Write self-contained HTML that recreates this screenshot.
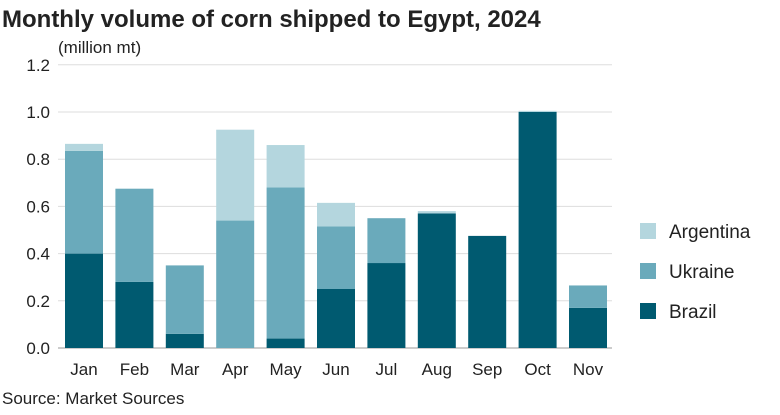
<!DOCTYPE html>
<html><head><meta charset="utf-8">
<style>
body{margin:0;background:#fff;font-family:"Liberation Sans",sans-serif;}
svg text{font-family:"Liberation Sans",sans-serif;fill:#222;}
</style></head>
<body>
<svg id="chart" width="780" height="410">
<text x="2" y="27" font-size="24" font-weight="bold">Monthly volume of corn shipped to Egypt, 2024</text>
<text x="58" y="53" font-size="17">(million mt)</text>
<text x="2" y="404" font-size="17">Source: Market Sources</text>
<g id="grid"></g><g id="bars"></g><g id="xlabels"></g><g id="legend"></g>
</svg>
<script>
const months=["Jan","Feb","Mar","Apr","May","Jun","Jul","Aug","Sep","Oct","Nov"];
const brazil=[0.40,0.28,0.06,0.00,0.04,0.25,0.36,0.57,0.475,1.0,0.17];
const ukraine=[0.435,0.395,0.29,0.54,0.64,0.265,0.19,0.0,0.0,0.0,0.095];
const argentina=[0.03,0.0,0.0,0.385,0.18,0.10,0.0,0.01,0.0,0.005,0.0];
const yTicks=[0,0.2,0.4,0.6,0.8,1.0,1.2];
const series=[{name:"Brazil",vals:brazil,color:"#005a70"},{name:"Ukraine",vals:ukraine,color:"#6aaabb"},{name:"Argentina",vals:argentina,color:"#b4d6de"}];
const NS="http://www.w3.org/2000/svg";
const y0=348,pxPerUnit=236;
function yScale(v){return y0-v*pxPerUnit;}
function xCenter(i){return 84+i*50.4;}
const bw=38;
function mk(tag,attrs,parent){const e=document.createElementNS(NS,tag);for(const k in attrs)e.setAttribute(k,attrs[k]);parent.appendChild(e);return e;}
const grid=document.getElementById('grid');
yTicks.forEach(t=>{
  const l=mk('line',{x1:58,x2:612,y1:yScale(t),y2:yScale(t),stroke:t===0?'#999':'#ddd','stroke-width':1},grid);
  
  
  const tx=mk('text',{x:50,y:yScale(t)+6,'font-size':17,'text-anchor':'end'},grid);
  tx.textContent=t.toFixed(1);
  
  
});
const bars=document.getElementById('bars');
months.forEach((m,i)=>{
  let cum=0;
  series.forEach(s=>{
    const v=s.vals[i];
    if(v>0){
      const r=mk('rect',{x:xCenter(i)-bw/2,y:yScale(cum+v),width:bw,height:v*pxPerUnit,fill:s.color},bars);
      
      
    }
    cum+=v;
  });
  const t=mk('text',{x:xCenter(i),y:375,'font-size':17,'text-anchor':'middle'},document.getElementById('xlabels'));
  t.textContent=m;
  
  
});
const lg=document.getElementById('legend');
[["Argentina","#b4d6de",231],["Ukraine","#6aaabb",271],["Brazil","#005a70",311]].forEach(([n,c,y])=>{
  const r=mk('rect',{x:640,y:y-8,width:16,height:16,fill:c},lg);
  
  
  const t=mk('text',{x:669,y:y+7,'font-size':19},lg);
  t.textContent=n;
  
  
});
</script>
</body></html>
